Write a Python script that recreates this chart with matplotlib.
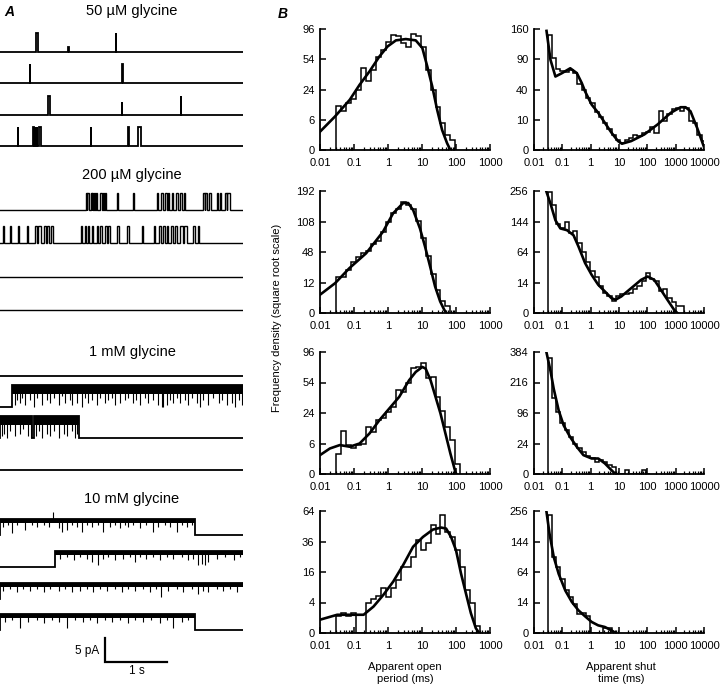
import numpy as np
import matplotlib.pyplot as plt
from matplotlib.ticker import FixedLocator, LogLocator, NullFormatter

plt.rcParams['font.family'] = ['Liberation Sans', 'DejaVu Sans']

W, H = 720, 686
T_END = 3.9        # s shown per record
PX_PER_PA = 4.8    # 5 pA bar = 24 px
PX_PER_S = 243 / T_END

# ---------------- A: single-channel records ----------------
titles_a = ["50 µM glycine", "200 µM glycine", "1 mM glycine", "10 mM glycine"]

# openings: (start s, end s[, amplitude pA])
amp_50uM = 4.0
open_50uM = [
    [(0.575, 0.605), (1.095, 1.100, 1.0), (1.860, 1.866)],
    [(0.480, 0.486), (1.966, 1.973)],
    [(0.765, 0.800), (1.950, 1.956, 2.8), (2.905, 2.912)],
    [(0.290, 0.295), (0.535, 0.540), (0.560, 0.565), (0.590, 0.595), (0.625, 0.660),
     (1.460, 1.466), (2.060, 2.066), (2.215, 2.265)],
]

amp_200uM = 3.6
open_200uM = [
    [(1.380, 1.395), (1.400, 1.434), (1.455, 1.470), (1.478, 1.498), (1.514, 1.530),
     (1.536, 1.562), (1.605, 1.637), (1.659, 1.675), (1.682, 1.701), (1.873, 1.889),
     (2.129, 2.146), (2.515, 2.536), (2.590, 2.611), (2.654, 2.686), (2.702, 2.718),
     (2.755, 2.777), (2.825, 2.857), (2.889, 2.921), (2.953, 2.975), (3.264, 3.285),
     (3.292, 3.317), (3.360, 3.381), (3.478, 3.505), (3.531, 3.553), (3.617, 3.640),
     (3.648, 3.692)],
    [(0.043, 0.064), (0.161, 0.177), (0.294, 0.310), (0.428, 0.449), (0.562, 0.599),
     (0.615, 0.653), (0.706, 0.738), (0.760, 0.787), (0.813, 0.845), (1.300, 1.316),
     (1.364, 1.380), (1.418, 1.434), (1.471, 1.493), (1.552, 1.578), (1.605, 1.632),
     (1.685, 1.723), (1.739, 1.766), (1.883, 1.915), (2.033, 2.065), (2.274, 2.290),
     (2.472, 2.488), (2.558, 2.579), (2.611, 2.643), (2.675, 2.702), (2.739, 2.772),
     (2.809, 2.836), (2.889, 2.932), (2.953, 2.996), (3.093, 3.125), (3.173, 3.200)],
    [],
    [],
]

amp_1mM = 4.6
open_1mM = [[], [(0.20, T_END)], [(0.0, 0.51), (0.55, 1.26)], []]
# brief shuttings within openings: (time s, depth as fraction of amplitude)
flick_1mM = [
    [],
    [(0.24, 0.9), (0.28, 0.7), (0.32, 0.8), (0.36, 0.6), (0.40, 0.9), (0.48, 0.7),
     (0.54, 1.0), (0.59, 0.6), (0.67, 0.9), (0.75, 0.7), (0.80, 0.8), (0.86, 0.6),
     (0.94, 0.9), (0.99, 0.5), (1.04, 0.8), (1.12, 0.7), (1.15, 0.9), (1.23, 0.8),
     (1.31, 1.0), (1.36, 0.6), (1.42, 0.8), (1.47, 0.7), (1.55, 0.9), (1.61, 0.6),
     (1.69, 0.8), (1.74, 0.7), (1.79, 0.6), (1.85, 0.9), (1.93, 0.8), (2.01, 0.7),
     (2.06, 0.6), (2.14, 0.8), (2.19, 0.7), (2.25, 0.9), (2.33, 0.6), (2.38, 0.8),
     (2.46, 0.7), (2.54, 0.9), (2.60, 1.0), (2.62, 1.0), (2.68, 0.9), (2.73, 0.7),
     (2.78, 0.8), (2.84, 0.6), (2.89, 0.8), (2.97, 0.7), (3.02, 0.9), (3.08, 0.6),
     (3.16, 0.8), (3.21, 1.0), (3.26, 0.7), (3.34, 0.9), (3.42, 0.6), (3.51, 0.8),
     (3.56, 0.7), (3.64, 0.9), (3.72, 0.8), (3.77, 1.0), (3.83, 0.7), (3.88, 0.9)],
    [(0.03, 0.9), (0.06, 0.8), (0.11, 1.0), (0.16, 0.7), (0.24, 0.9), (0.32, 0.8),
     (0.37, 0.6), (0.45, 0.9), (0.50, 1.0), (0.58, 0.9), (0.62, 0.7), (0.67, 1.0),
     (0.75, 0.8), (0.80, 0.9), (0.86, 0.7), (0.94, 1.0), (1.02, 0.8), (1.07, 0.9),
     (1.15, 0.7), (1.20, 1.0), (1.24, 0.8)],
    [],
]

amp_10mM = 3.4
open_10mM = [[(0.0, 3.13)], [(0.88, T_END)], [(0.0, T_END)], [(0.0, 3.13)]]
flick_10mM = [
    [(0.05, 0.5), (0.13, 0.4), (0.19, 0.9), (0.27, 0.4), (0.40, 0.7), (0.51, 0.4),
     (0.59, 0.5), (0.70, 0.4), (0.78, 0.5), (0.85, -0.4), (0.94, 0.6), (0.99, 0.8),
     (1.07, 0.7), (1.15, 0.4), (1.23, 0.5), (1.31, 0.8), (1.39, 0.4), (1.47, 0.5),
     (1.58, 0.4), (1.66, 0.8), (1.77, 0.5), (1.85, 0.4), (1.93, 0.6), (2.01, 0.4),
     (2.06, 0.5), (2.14, 0.4), (2.25, 0.6), (2.35, 0.4), (2.46, 0.8), (2.54, 0.5),
     (2.65, 0.4), (2.73, 0.5), (2.84, 0.8), (2.92, 0.4), (3.00, 0.5), (3.08, 0.4)],
    [(0.96, 0.5), (1.07, 0.4), (1.18, 0.6), (1.28, 0.4), (1.39, 0.5), (1.47, 0.7),
     (1.58, 0.9), (1.66, 0.5), (1.74, 0.4), (1.85, 0.6), (1.98, 0.5), (2.09, 0.4),
     (2.17, 0.7), (2.25, 0.4), (2.35, 0.5), (2.46, 0.4), (2.57, 0.6), (2.68, 0.4),
     (2.78, 0.5), (2.92, 0.4), (3.02, 0.6), (3.10, 0.5), (3.18, 0.9), (3.24, 0.8),
     (3.29, 0.9), (3.34, 0.7), (3.48, 0.5), (3.61, 0.4), (3.75, 0.6), (3.85, 0.4)],
    [(0.05, 0.5), (0.16, 0.4), (0.27, 0.6), (0.37, 0.4), (0.48, 0.5), (0.59, 0.4),
     (0.70, 0.6), (0.80, 0.4), (0.94, 0.5), (1.04, 0.4), (1.15, 0.6), (1.28, 0.5),
     (1.39, 0.4), (1.50, 0.6), (1.61, 0.4), (1.71, 0.5), (1.85, 0.4), (1.95, 0.6),
     (2.06, 0.4), (2.17, 0.5), (2.30, 0.4), (2.41, 0.6), (2.51, 0.4), (2.59, 0.9),
     (2.70, 0.5), (2.84, 0.4), (2.94, 0.6), (3.08, 0.4), (3.18, 0.7), (3.26, 0.5),
     (3.34, 0.6), (3.48, 0.4), (3.58, 0.5), (3.69, 0.4), (3.80, 0.6)],
    [(0.08, 0.5), (0.19, 0.4), (0.32, 0.9), (0.45, 0.5), (0.59, 0.4), (0.70, 0.6),
     (0.83, 0.4), (0.94, 0.5), (1.07, 0.9), (1.20, 0.4), (1.34, 0.5), (1.44, 0.4),
     (1.55, 0.6), (1.69, 0.4), (1.79, 0.5), (1.93, 0.4), (2.06, 0.6), (2.17, 0.4),
     (2.30, 0.5), (2.43, 0.4), (2.57, 0.6), (2.68, 0.4), (2.78, 0.9), (2.92, 0.5),
     (3.02, 0.4)],
]

# ---------------- B: dwell-time histograms (square-root ordinate) ----------------
# bins start at 0.03 ms, equal width in log10(time)
hist_start = 0.03
bin_step = [0.146, 0.151]           # open column, shut column

open_hist = [
    [12.8, 10, 14.4, 17, 24, 44, 31, 42, 57, 66, 77, 87, 85, 75, 70, 88, 85, 70, 42,
     24, 12, 4.7, 1.5, 0.6],
    [17, 17, 24, 33, 40, 46, 50, 62, 66, 84, 108, 130, 140, 158, 150, 140, 110, 72,
     42, 20, 7, 2, 0.6],
    [2.7, 11.7, 5.4, 4.2, 5.4, 6, 14.4, 11.5, 18.7, 20, 25, 29, 45, 43, 53, 72, 74,
     79, 59, 61, 38, 26, 14.4, 7.4, 0.7],
    [1.2, 1.8, 1.2, 1.8, 0, 0, 4, 4.9, 6, 8.6, 5.7, 8.6, 12, 19, 19, 25, 37, 29.5,
     35, 50, 42, 60, 44, 40, 29.5, 19, 8, 4, 0.2],
]
shut_hist = [
    [145, 92, 72, 68, 66, 70, 64, 48, 40, 30, 24, 16, 12, 8, 5, 2.6, 1.2, 0.6, 1.0,
     1.6, 2.4, 2.2, 3.2, 3.4, 6.0, 3.2, 17, 9, 14, 18, 19, 17, 19, 9, 8, 2.4, 0.8],
    [250, 200, 135, 125, 143, 110, 115, 85, 65, 45, 30, 22, 13, 7, 5, 2.5, 5, 6, 6,
     7, 10, 13, 18, 27, 20, 18, 8, 10, 4, 2, 0.8, 0.8],
    [349, 150, 99, 66, 50, 35, 24, 18, 12, 8, 7, 4, 5, 3.5, 2, 1.4, 0, 0, 0.4, 0, 0,
     0, 0.4, 0],
    [238, 100, 75, 50, 32, 22, 14, 6.4, 7, 5, 0, 0, 0, 0.4, 0.4],
]

# fitted densities: log10(time/ms), density
open_fit_logt = [
    [-2, -1.563, -1.126, -0.835, -0.544, -0.252, -0.010, 0.233, 0.524, 0.816, 1.010,
     1.155, 1.301, 1.447, 1.592, 1.738, 1.835],
    [-2, -1.554, -1.139, -0.644, -0.149, 0.149, 0.446, 0.594, 0.743, 0.941, 1.089,
     1.238, 1.386, 1.535, 1.653, 1.713],
    [-2, -1.709, -1.417, -1.126, -0.835, -0.544, -0.252, 0.039, 0.330, 0.621, 0.816,
     1.010, 1.107, 1.252, 1.398, 1.544, 1.689, 1.835, 1.981, 2.01],
    [-2, -1.495, -1.010, -0.718, -0.427, -0.136, 0.155, 0.447, 0.738, 1.029, 1.320,
     1.563, 1.709, 1.854, 2.0, 2.146, 2.291, 2.437, 2.583, 2.68],
]
open_fit_y = [
    [2.2, 7.3, 16.5, 27.9, 40.5, 57.4, 70.4, 78.8, 80.7, 78.8, 68.2, 45.8, 26.5, 10.5,
     2.6, 0.3, 0],
    [4.3, 11.5, 25.8, 46, 85, 128, 156, 156, 136, 92, 57, 28, 9, 1.7, 0.14, 0],
    [2.3, 4.2, 5.4, 4.8, 6.0, 10.6, 18.7, 27.7, 38.4, 56.7, 67.2, 73.9, 71.6, 56.7,
     38.4, 23.6, 10.6, 2.7, 0.03, 0],
    [0.76, 1.43, 1.43, 1.43, 3.0, 6.25, 11.4, 19.9, 32, 39.7, 46, 47.8, 46.9, 39.7,
     29.5, 15.3, 6.8, 1.7, 0.1, 0],
]
shut_fit_logt = [
    [-1.558, -1.419, -1.244, -1.012, -0.721, -0.488, -0.314, -0.198, 0.035, 0.267,
     0.5, 0.733, 0.965, 1.105, 1.43, 1.895, 2.36, 2.826, 3.174, 3.349, 3.523, 3.756,
     3.988],
    [-1.558, -1.419, -1.244, -1.070, -0.837, -0.605, -0.430, -0.198, 0.035, 0.267,
     0.5, 0.733, 0.872, 1.081, 1.430, 1.779, 2.012, 2.244, 2.477, 2.709, 2.942, 3.058],
    [-1.558, -1.419, -1.302, -1.128, -0.953, -0.721, -0.488, -0.256, 0.035, 0.267,
     0.5, 0.674, 0.849, 0.907],
    [-1.558, -1.453, -1.302, -1.128, -0.895, -0.663, -0.430, -0.198, 0.035, 0.267,
     0.5, 0.733, 0.872],
]
shut_fit_y = [
    [155, 89, 59, 64.6, 73, 64.6, 49, 37.6, 22.5, 15.1, 8.1, 3.3, 0.87, 0.43, 0.87,
     2.65, 7.1, 15.1, 20, 20, 16.4, 5.4, 0.17],
    [252, 206, 148, 123, 118, 104, 76, 43, 25, 13.7, 8, 3.8, 3.0, 4.7, 10.6, 18.9,
     22.9, 18.9, 9.3, 3.0, 0.19, 0],
    [380, 275, 186, 104, 61, 35, 19, 9.2, 6.2, 6.2, 2.9, 0.8, 0.01, 0],
    [252, 170, 99, 60, 31, 16.5, 8.8, 4.8, 2.1, 1.0, 0.62, 0.12, 0],
]

ymax_open = [96, 192, 96, 64]
ymax_shut = [160, 256, 384, 256]
ylabels_open = [['0', '6', '24', '54', '96'], ['0', '12', '48', '108', '192'],
                ['0', '6', '24', '54', '96'], ['0', '4', '16', '36', '64']]
ylabels_shut = [['0', '10', '40', '90', '160'], ['0', '14', '64', '144', '256'],
                ['0', '24', '96', '216', '384'], ['0', '14', '64', '144', '256']]
xlabels_all = ['0.01', '0.1', '1', '10', '100', '1000', '10000']


def fx(px):
    return px / W


def fy(py):
    return 1 - py / H


def draw_trace(ax, base, amp, opens, flicks=(), band=0.0, lw=1.3):
    xs, ys = [0.0], [0.0]
    for ev in opens:
        t0, t1 = ev[0], ev[1]
        a = ev[2] if len(ev) > 2 else amp
        xs += [t0, t0]
        ys += [0.0, a]
        xs.append(t1)
        ys.append(a)
        if t1 < T_END:
            xs.append(t1)
            ys.append(0.0)
    if xs[-1] < T_END:
        xs.append(T_END)
        ys.append(ys[-1])
    ax.plot(xs, base + np.array(ys), color='black', lw=lw, solid_joinstyle='miter')
    if band > 0:
        for ev in opens:
            ax.fill_between([ev[0], ev[1]], base + amp - band, base + amp,
                            color='black', lw=0)
    if flicks:
        ft = [f[0] for f in flicks]
        fd = np.array([f[1] for f in flicks])
        ax.vlines(ft, base + amp, base + amp - fd * amp, color='black', lw=0.8)


fig = plt.figure(figsize=(W / 100, H / 100), dpi=100)

# ---- panel A ----
axA = fig.add_axes([0, 0, 243 / W, 1])
axA.set_xlim(0, T_END)
axA.set_ylim(-H / PX_PER_PA, 0)
axA.axis('off')

base_px = [[52, 83, 115, 146], [210, 243, 277, 310], [376, 407, 438, 470],
           [535, 567, 599, 630]]
title_px = [11, 175, 352, 499]

for i in range(4):
    draw_trace(axA, -base_px[0][i] / PX_PER_PA, amp_50uM, open_50uM[i])
    draw_trace(axA, -base_px[1][i] / PX_PER_PA, amp_200uM, open_200uM[i], lw=1.0)
    draw_trace(axA, -base_px[2][i] / PX_PER_PA, amp_1mM, open_1mM[i], flick_1mM[i],
               band=1.9)
    draw_trace(axA, -base_px[3][i] / PX_PER_PA, amp_10mM, open_10mM[i], flick_10mM[i],
               band=0.9)

for lab, py in zip(titles_a, title_px):
    fig.text(fx(132), fy(py), lab, ha='center', va='center', fontsize=10.5)

# scale bar 5 pA / 1 s
sb_x = 105 / PX_PER_S
sb_y = -662 / PX_PER_PA
axA.plot([sb_x, sb_x, sb_x + 1.0], [sb_y + 5, sb_y, sb_y], color='black', lw=1.6,
         solid_joinstyle='miter')
fig.text(fx(99), fy(651), '5 pA', ha='right', va='center', fontsize=8.5)
fig.text(fx(137), fy(671), '1 s', ha='center', va='center', fontsize=8.5)

fig.text(fx(4), fy(12), 'A', fontsize=10, style='italic', weight='bold',
         ha='left', va='center')
fig.text(fx(278), fy(14), 'B', fontsize=10, style='italic', weight='bold',
         ha='left', va='center')

# ---- panel B ----
col_lr = [(320, 490), (534, 704)]
col_xmax = [1000, 10000]
row_tb = [(29, 150), (191, 313), (352, 474), (511, 633)]

for r in range(4):
    for c in range(2):
        left, right = col_lr[c]
        top, bot = row_tb[r]
        ax = fig.add_axes([fx(left), fy(bot), (right - left) / W, (bot - top) / H])
        ax.set_xscale('log')
        ax.set_yscale('function', functions=(lambda v: np.sqrt(np.clip(v, 0, None)),
                                             lambda v: np.square(v)))
        if c == 0:
            vals, ymax, ylab = open_hist[r], ymax_open[r], ylabels_open[r]
            cx, cy = open_fit_logt[r], open_fit_y[r]
        else:
            vals, ymax, ylab = shut_hist[r], ymax_shut[r], ylabels_shut[r]
            cx, cy = shut_fit_logt[r], shut_fit_y[r]
        edges = 10 ** (np.log10(hist_start) + bin_step[c] * np.arange(len(vals) + 1))
        ax.stairs(vals, edges, baseline=0, color='black', lw=1.1)
        ax.plot(10 ** np.array(cx), cy, color='black', lw=1.9)

        ax.set_xlim(0.01, col_xmax[c])
        ax.set_ylim(0, ymax)
        ax.yaxis.set_major_locator(
            FixedLocator([ymax * f for f in (0, 1 / 16, 1 / 4, 9 / 16, 1)]))
        ax.set_yticklabels(ylab)
        n_dec = 6 if c == 0 else 7
        ax.xaxis.set_major_locator(FixedLocator([0.01 * 10 ** k for k in range(n_dec)]))
        ax.set_xticklabels(xlabels_all[:n_dec])
        ax.xaxis.set_minor_locator(LogLocator(base=10, subs=np.arange(2, 10), numticks=20))
        ax.xaxis.set_minor_formatter(NullFormatter())
        for side in ('top', 'right'):
            ax.spines[side].set_visible(False)
        for side in ('left', 'bottom'):
            ax.spines[side].set_linewidth(1.3)
        ax.tick_params(which='major', direction='in', length=4, width=1.1,
                       labelsize=8)
        ax.tick_params(axis='x', which='major', pad=6)
        ax.tick_params(axis='y', which='major', pad=4)
        ax.tick_params(which='minor', direction='in', length=2.5, width=0.9)
        ax.patch.set_alpha(0)

fig.text(fx(277), fy(318), 'Frequency density (square root scale)', rotation=90,
         ha='center', va='center', fontsize=8)
fig.text(fx(405), fy(673), 'Apparent open\nperiod (ms)', ha='center', va='center',
         fontsize=8, linespacing=1.15)
fig.text(fx(621), fy(673), 'Apparent shut\ntime (ms)', ha='center', va='center',
         fontsize=8, linespacing=1.15)

fig.savefig('out.png', dpi=100)
